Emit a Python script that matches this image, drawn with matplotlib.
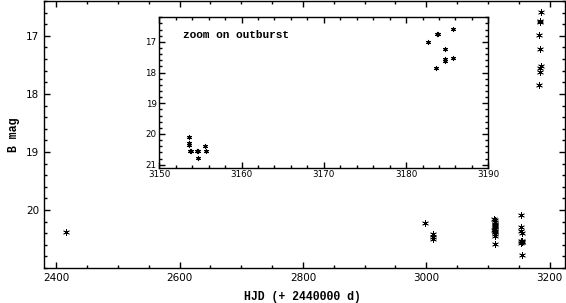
import numpy as np
import matplotlib
matplotlib.use('Agg')
import matplotlib.pyplot as plt
from matplotlib.ticker import MultipleLocator

# Datos: quiescencia + estallido (HJD - 2440000, magnitud B)
hjd_quiet = [2415.7, 2998.4, 3010.6, 3010.8, 3011.0,
             3110.5, 3111.0, 3111.5, 3112.0, 3110.8, 3111.2, 3111.8, 3112.2,
             3110.6, 3111.4, 3111.9, 3112.3, 3111.1, 3111.6]
mag_quiet = [20.38, 20.23, 20.42, 20.46, 20.50,
             20.15, 20.18, 20.21, 20.24, 20.26, 20.28, 20.30, 20.32,
             20.34, 20.36, 20.38, 20.41, 20.45, 20.58]

hjd_inset = [3153.66, 3153.62, 3153.64, 3153.74, 3153.82, 3154.60, 3154.72,
             3154.76, 3155.60, 3155.70,
             3182.65, 3183.78, 3183.85, 3183.60, 3184.72, 3184.68, 3184.70,
             3185.70, 3185.66]
mag_inset = [20.09, 20.30, 20.36, 20.54, 20.57, 20.54, 20.56,
             20.78, 20.40, 20.55,
             16.99, 16.74, 16.76, 17.85, 17.23, 17.55, 17.62,
             16.59, 17.52]

mono = ['Liberation Mono', 'DejaVu Sans Mono']
ast = (6, 2, 0)

fig = plt.figure(figsize=(5.66, 3.03), dpi=100)
ax = fig.add_axes([0.0777, 0.1155, 0.9205, 0.881])
ax.scatter(hjd_quiet + hjd_inset, mag_quiet + mag_inset, marker=ast,
           s=20, color='black', linewidths=0.5)
ax.set_xlim(2380, 3225)
ax.set_ylim(21, 16.4)
ax.xaxis.set_major_locator(MultipleLocator(200))
ax.xaxis.set_minor_locator(MultipleLocator(50))
ax.yaxis.set_major_locator(MultipleLocator(1))
ax.yaxis.set_minor_locator(MultipleLocator(0.2))
ax.set_yticks([17, 18, 19, 20])
ax.tick_params(which='both', direction='in', top=True, right=True, labelsize=7.5)
ax.tick_params(which='major', length=4.5, width=1)
ax.tick_params(which='minor', length=2.3, width=1)
for s in ax.spines.values():
    s.set_linewidth(1)
ax.set_xlabel('HJD (+ 2440000 d)', family=mono, fontweight='bold', fontsize=8.3, va='center')
ax.set_ylabel('B mag', family=mono, fontweight='bold', fontsize=8.3, va='center')
ax.xaxis.set_label_coords(0.497, -0.109)
ax.yaxis.set_label_coords(-0.058, 0.5)

# Recuadro: zoom sobre el estallido
ins = fig.add_axes([0.2815, 0.4465, 0.5813, 0.4964])
ins.scatter(hjd_inset, mag_inset, marker=ast, s=9, color='black', linewidths=0.8)
ins.set_xlim(3150, 3190)
ins.set_ylim(21.1, 16.2)
ins.xaxis.set_major_locator(MultipleLocator(10))
ins.xaxis.set_minor_locator(MultipleLocator(2))
ins.yaxis.set_major_locator(MultipleLocator(1))
ins.yaxis.set_minor_locator(MultipleLocator(0.2))
ins.set_yticks([17, 18, 19, 20, 21])
ins.tick_params(which='both', direction='in', top=True, right=True, labelsize=6.3, pad=2)
ins.tick_params(which='major', length=4, width=1)
ins.tick_params(which='minor', length=2, width=1)
for s in ins.spines.values():
    s.set_linewidth(1)
ins.text(0.072, 0.882, 'zoom on outburst', transform=ins.transAxes,
         family=mono, fontweight='bold', fontsize=8, va='center')

fig.savefig('out.png', dpi=100)
